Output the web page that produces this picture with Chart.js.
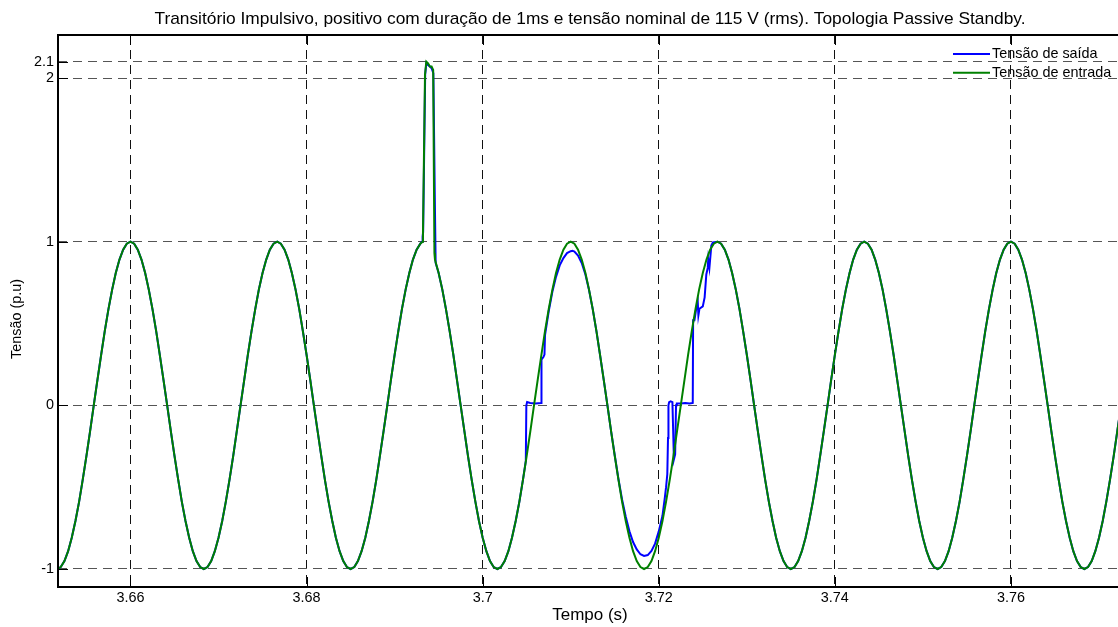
<!DOCTYPE html>
<html>
<head>
<meta charset="utf-8">
<script src="https://cdn.jsdelivr.net/npm/chart.js@4.4.0/dist/chart.umd.min.js"></script>
<style>
html,body{margin:0;padding:0;overflow:hidden;background:#fff;width:1118px;height:627px}
#wrap{position:relative;width:1126px;height:627px}
</style>
</head>
<body>
<div id="wrap"><canvas id="c" width="1126" height="627"></canvas></div>
<script>
// ---------------- data ----------------
const chartTitle = 'Transitório Impulsivo, positivo com duração de 1ms e tensão nominal de 115 V (rms). Topologia Passive Standby.';
const xTitle = 'Tempo (s)';
const yTitle = 'Tensão (p.u)';
const seriesNames = ['Tensão de saída', 'Tensão de entrada'];
const xTicks = [3.66, 3.68, 3.70, 3.72, 3.74, 3.76];
const xTickLabels = ['3.66', '3.68', '3.7', '3.72', '3.74', '3.76'];
const yTicks = [-1, 0, 1, 2, 2.1];
const yTickLabels = ['-1', '0', '1', '2', '2.1'];

// input voltage (green): time (s)
const tIn = [
3.65,3.65042,3.65083,3.65125,3.65167,3.65208,3.6525,3.65292,3.65333,3.65375,3.65417,3.65458,
3.655,3.65542,3.65583,3.65625,3.65667,3.65708,3.6575,3.65792,3.65833,3.65875,3.65917,3.65958,
3.66,3.66042,3.66083,3.66125,3.66167,3.66208,3.6625,3.66292,3.66333,3.66375,3.66417,3.66458,
3.665,3.66542,3.66583,3.66625,3.66667,3.66708,3.6675,3.66792,3.66833,3.66875,3.66917,3.66958,
3.67,3.67042,3.67083,3.67125,3.67167,3.67208,3.6725,3.67292,3.67333,3.67375,3.67417,3.67458,
3.675,3.67542,3.67583,3.67625,3.67667,3.67708,3.6775,3.67792,3.67833,3.67875,3.67917,3.67958,
3.68,3.68042,3.68083,3.68125,3.68167,3.68208,3.6825,3.68292,3.68333,3.68375,3.68417,3.68458,
3.685,3.68542,3.68583,3.68625,3.68667,3.68708,3.6875,3.68792,3.68833,3.68875,3.68917,3.68958,
3.69,3.69042,3.69083,3.69125,3.69167,3.69208,3.6925,3.69292,3.69318,3.69322,3.69345,3.6936,3.6938,3.694,3.6942,3.69438,3.69452,3.69458,
3.695,3.69542,3.69583,3.69625,3.69667,3.69708,3.6975,3.69792,3.69833,3.69875,3.69917,3.69958,
3.7,3.70042,3.70083,3.70125,3.70167,3.70208,3.7025,3.70292,3.70333,3.70375,3.70417,3.70458,
3.705,3.70542,3.70583,3.70625,3.70667,3.70708,3.7075,3.70792,3.70833,3.70875,3.70917,3.70958,
3.71,3.71042,3.71083,3.71125,3.71167,3.71208,3.7125,3.71292,3.71333,3.71375,3.71417,3.71458,
3.715,3.71542,3.71583,3.71625,3.71667,3.71708,3.7175,3.71792,3.71833,3.71875,3.71917,3.71958,
3.72,3.72042,3.72083,3.72125,3.72167,3.72208,3.7225,3.72292,3.72333,3.72375,3.72417,3.72458,
3.725,3.72542,3.72583,3.72625,3.72667,3.72708,3.7275,3.72792,3.72833,3.72875,3.72917,3.72958,
3.73,3.73042,3.73083,3.73125,3.73167,3.73208,3.7325,3.73292,3.73333,3.73375,3.73417,3.73458,
3.735,3.73542,3.73583,3.73625,3.73667,3.73708,3.7375,3.73792,3.73833,3.73875,3.73917,3.73958,
3.74,3.74042,3.74083,3.74125,3.74167,3.74208,3.7425,3.74292,3.74333,3.74375,3.74417,3.74458,
3.745,3.74542,3.74583,3.74625,3.74667,3.74708,3.7475,3.74792,3.74833,3.74875,3.74917,3.74958,
3.75,3.75042,3.75083,3.75125,3.75167,3.75208,3.7525,3.75292,3.75333,3.75375,3.75417,3.75458,
3.755,3.75542,3.75583,3.75625,3.75667,3.75708,3.7575,3.75792,3.75833,3.75875,3.75917,3.75958,
3.76,3.76042,3.76083,3.76125,3.76167,3.76208,3.7625,3.76292,3.76333,3.76375,3.76417,3.76458,
3.765,3.76542,3.76583,3.76625,3.76667,3.76708,3.7675,3.76792,3.76833,3.76875,3.76917,3.76958,
3.77,3.77042,3.77083,3.77125,3.77167,3.77208,3.7725,3.77292
];
// input voltage (green): value (p.u)
const vIn = [
-.809,-.891,-.951,-.988,-1,-.988,-.951,-.891,-.809,-.707,-.588,-.454,
-.309,-.156,0,.156,.309,.454,.588,.707,.809,.891,.951,.988,
1,.988,.951,.891,.809,.707,.588,.454,.309,.156,0,-.156,
-.309,-.454,-.588,-.707,-.809,-.891,-.951,-.988,-1,-.988,-.951,-.891,
-.809,-.707,-.588,-.454,-.309,-.156,0,.156,.309,.454,.588,.707,
.809,.891,.951,.988,1,.988,.951,.891,.809,.707,.588,.454,
.309,.156,0,-.156,-.309,-.454,-.588,-.707,-.809,-.891,-.951,-.988,
-1,-.988,-.951,-.891,-.809,-.707,-.588,-.454,-.309,-.156,0,.156,
.309,.454,.588,.707,.809,.891,.951,.988,1.0,1.05,2.02,2.1,2.09,2.07,2.07,2.05,.93,.891,
.809,.707,.588,.454,.309,.156,0,-.156,-.309,-.454,-.588,-.707,
-.809,-.891,-.951,-.988,-1,-.988,-.951,-.891,-.809,-.707,-.588,-.454,
-.309,-.156,0,.156,.309,.454,.588,.707,.809,.891,.951,.988,
1,.988,.951,.891,.809,.707,.588,.454,.309,.156,0,-.156,
-.309,-.454,-.588,-.707,-.809,-.891,-.951,-.988,-1,-.988,-.951,-.891,
-.809,-.707,-.588,-.454,-.309,-.156,0,.156,.309,.454,.588,.707,
.809,.891,.951,.988,1,.988,.951,.891,.809,.707,.588,.454,
.309,.156,0,-.156,-.309,-.454,-.588,-.707,-.809,-.891,-.951,-.988,
-1,-.988,-.951,-.891,-.809,-.707,-.588,-.454,-.309,-.156,0,.156,
.309,.454,.588,.707,.809,.891,.951,.988,1,.988,.951,.891,
.809,.707,.588,.454,.309,.156,0,-.156,-.309,-.454,-.588,-.707,
-.809,-.891,-.951,-.988,-1,-.988,-.951,-.891,-.809,-.707,-.588,-.454,
-.309,-.156,0,.156,.309,.454,.588,.707,.809,.891,.951,.988,
1,.988,.951,.891,.809,.707,.588,.454,.309,.156,0,-.156,
-.309,-.454,-.588,-.707,-.809,-.891,-.951,-.988,-1,-.988,-.951,-.891,
-.809,-.707,-.588,-.454,-.309,-.156,0,.156
];

// output voltage (blue): time (s)
const tOut = [
3.65,3.65042,3.65083,3.65125,3.65167,3.65208,3.6525,3.65292,3.65333,3.65375,3.65417,3.65458,
3.655,3.65542,3.65583,3.65625,3.65667,3.65708,3.6575,3.65792,3.65833,3.65875,3.65917,3.65958,
3.66,3.66042,3.66083,3.66125,3.66167,3.66208,3.6625,3.66292,3.66333,3.66375,3.66417,3.66458,
3.665,3.66542,3.66583,3.66625,3.66667,3.66708,3.6675,3.66792,3.66833,3.66875,3.66917,3.66958,
3.67,3.67042,3.67083,3.67125,3.67167,3.67208,3.6725,3.67292,3.67333,3.67375,3.67417,3.67458,
3.675,3.67542,3.67583,3.67625,3.67667,3.67708,3.6775,3.67792,3.67833,3.67875,3.67917,3.67958,
3.68,3.68042,3.68083,3.68125,3.68167,3.68208,3.6825,3.68292,3.68333,3.68375,3.68417,3.68458,
3.685,3.68542,3.68583,3.68625,3.68667,3.68708,3.6875,3.68792,3.68833,3.68875,3.68917,3.68958,
3.69,3.69042,3.69083,3.69125,3.69167,3.69208,3.6925,3.69292,3.69312,3.69318,3.69324,3.69347,3.6936,3.6938,3.694,3.6942,3.6944,3.69458,3.69466,
3.695,3.69542,3.69583,3.69625,3.69667,3.69708,3.6975,3.69792,3.69833,3.69875,3.69917,3.69958,
3.7,3.70042,3.70083,3.70125,3.70167,3.70208,3.7025,3.70292,3.70333,3.70375,3.70417,3.70458,3.7049,3.70496,3.70505,3.7054,3.706,3.70664,3.70668,3.7069,3.70702,3.70708,
3.7075,3.70792,3.70833,3.70875,3.70917,3.70958,
3.71,3.7102,3.71042,3.71083,3.71125,3.71167,3.71208,3.7125,3.71292,3.71333,3.71375,3.71417,3.71458,
3.715,3.71542,3.71583,3.71625,3.71667,3.71708,3.7175,3.71792,3.71833,3.71875,3.71917,3.71958,
3.72,3.72042,3.7207,3.72083,3.72097,3.72105,3.7211,3.72118,3.72135,3.72155,3.72172,3.72186,3.72196,3.72205,3.7225,3.723,3.7235,3.72386,3.7239,3.72405,3.72425,3.72443,3.7245,3.72462,
3.725,3.72521,3.7254,3.72556,3.72562,3.72575,3.72597,3.72615,3.72667,3.72708,3.7275,3.72792,3.72833,3.72875,3.72917,3.72958,
3.73,3.73042,3.73083,3.73125,3.73167,3.73208,3.7325,3.73292,3.73333,3.73375,3.73417,3.73458,
3.735,3.73542,3.73583,3.73625,3.73667,3.73708,3.7375,3.73792,3.73833,3.73875,3.73917,3.73958,
3.74,3.74042,3.74083,3.74125,3.74167,3.74208,3.7425,3.74292,3.74333,3.74375,3.74417,3.74458,
3.745,3.74542,3.74583,3.74625,3.74667,3.74708,3.7475,3.74792,3.74833,3.74875,3.74917,3.74958,
3.75,3.75042,3.75083,3.75125,3.75167,3.75208,3.7525,3.75292,3.75333,3.75375,3.75417,3.75458,
3.755,3.75542,3.75583,3.75625,3.75667,3.75708,3.7575,3.75792,3.75833,3.75875,3.75917,3.75958,
3.76,3.76042,3.76083,3.76125,3.76167,3.76208,3.7625,3.76292,3.76333,3.76375,3.76417,3.76458,
3.765,3.76542,3.76583,3.76625,3.76667,3.76708,3.7675,3.76792,3.76833,3.76875,3.76917,3.76958,
3.77,3.77042,3.77083,3.77125,3.77167,3.77208,3.7725,3.77292
];
// output voltage (blue): value (p.u)
const vOut = [
-.809,-.891,-.951,-.988,-1,-.988,-.951,-.891,-.809,-.707,-.588,-.454,
-.309,-.156,0,.156,.309,.454,.588,.707,.809,.891,.951,.988,
1,.988,.951,.891,.809,.707,.588,.454,.309,.156,0,-.156,
-.309,-.454,-.588,-.707,-.809,-.891,-.951,-.988,-1,-.988,-.951,-.891,
-.809,-.707,-.588,-.454,-.309,-.156,0,.156,.309,.454,.588,.707,
.809,.891,.951,.988,1,.988,.951,.891,.809,.707,.588,.454,
.309,.156,0,-.156,-.309,-.454,-.588,-.707,-.809,-.891,-.951,-.988,
-1,-.988,-.951,-.891,-.809,-.707,-.588,-.454,-.309,-.156,0,.156,
.309,.454,.588,.707,.809,.891,.951,.988,1.0,1.03,1.06,2.02,2.09,2.08,2.07,2.06,2.03,1.2,.87,
.809,.707,.588,.454,.309,.156,0,-.156,-.309,-.454,-.588,-.707,
-.809,-.891,-.951,-.988,-1,-.988,-.951,-.891,-.809,-.707,-.588,-.454,-.34,0,.02,.015,.012,.015,.28,.295,.31,.43,
.575,.695,.785,.855,.9,.93,
.942,.945,.94,.915,.87,.8,.705,.588,.454,.309,.156,0,-.156,
-.305,-.45,-.575,-.68,-.77,-.835,-.88,-.91,-.92,-.915,-.89,-.845,
-.77,-.675,-.56,-.5,-.42,-.2,0,.02,.025,.02,-.33,-.3,0,.012,.012,.015,.012,.015,.52,.52,.59,.63,.55,.59,
.605,.66,.8,.84,.89,.84,.976,.995,1,.988,.951,.891,.809,.707,.588,.454,
.309,.156,0,-.156,-.309,-.454,-.588,-.707,-.809,-.891,-.951,-.988,
-1,-.988,-.951,-.891,-.809,-.707,-.588,-.454,-.309,-.156,0,.156,
.309,.454,.588,.707,.809,.891,.951,.988,1,.988,.951,.891,
.809,.707,.588,.454,.309,.156,0,-.156,-.309,-.454,-.588,-.707,
-.809,-.891,-.951,-.988,-1,-.988,-.951,-.891,-.809,-.707,-.588,-.454,
-.309,-.156,0,.156,.309,.454,.588,.707,.809,.891,.951,.988,
1,.988,.951,.891,.809,.707,.588,.454,.309,.156,0,-.156,
-.309,-.454,-.588,-.707,-.809,-.891,-.951,-.988,-1,-.988,-.951,-.891,
-.809,-.707,-.588,-.454,-.309,-.156,0,.156
];

// ---------------- chart ----------------
const FONT = '"Liberation Sans", Arial, Helvetica, sans-serif';
const seriesColors = ['#0000ff', '#008000'];
const toXY = (ts, vs) => ts.map((t, i) => ({x: t, y: vs[i]}));

const decor = {
  id: 'decor',
  afterDraw(chart) {
    const {ctx, chartArea: a, scales: {x, y}} = chart;
    ctx.save();
    // ticks (inward)
    ctx.strokeStyle = '#000';
    ctx.lineWidth = 1;
    ctx.beginPath();
    xTicks.forEach(v => {
      const px = Math.round(x.getPixelForValue(v)) + 0.5;
      ctx.moveTo(px, a.bottom); ctx.lineTo(px, a.bottom - 10);
      ctx.moveTo(px, a.top); ctx.lineTo(px, a.top + 10);
    });
    yTicks.forEach(v => {
      const py = Math.round(y.getPixelForValue(v)) + 0.5;
      ctx.moveTo(a.left, py); ctx.lineTo(a.left + 10, py);
    });
    ctx.stroke();
    // frame
    ctx.lineWidth = 2;
    ctx.beginPath();
    ctx.moveTo(a.right, a.top); ctx.lineTo(a.left, a.top);
    ctx.lineTo(a.left, a.bottom); ctx.lineTo(a.right, a.bottom);
    ctx.lineTo(a.right, a.top);
    ctx.stroke();
    // legend (inside, top right, no box)
    ctx.font = '14.4px ' + FONT;
    ctx.textAlign = 'left';
    ctx.textBaseline = 'middle';
    chart.data.datasets.forEach((ds, i) => {
      const ry = a.top + 19 + i * 18.7;
      ctx.strokeStyle = ds.borderColor;
      ctx.lineWidth = 2;
      ctx.beginPath();
      ctx.moveTo(a.right - 169, ry); ctx.lineTo(a.right - 132, ry);
      ctx.stroke();
      ctx.fillStyle = '#000';
      ctx.fillText(ds.label, a.right - 130, ry);
    });
    // title
    ctx.font = '17.35px ' + FONT;
    ctx.textAlign = 'center';
    ctx.textBaseline = 'alphabetic';
    ctx.fillStyle = '#000';
    ctx.fillText(chartTitle, (a.left + a.right) / 2, 24);
    // y-axis label
    ctx.font = '14.4px ' + FONT;
    ctx.translate(17, 319);
    ctx.rotate(-Math.PI / 2);
    ctx.textAlign = 'center';
    ctx.textBaseline = 'middle';
    ctx.fillText(yTitle, 0, 0);
    ctx.restore();
  }
};

new Chart(document.getElementById('c'), {
  type: 'line',
  data: {
    datasets: [
      {label: seriesNames[0], data: toXY(tOut, vOut), borderColor: seriesColors[0], backgroundColor: seriesColors[0],
       borderWidth: 2, pointRadius: 0, tension: 0, fill: false, order: 1},
      {label: seriesNames[1], data: toXY(tIn, vIn), borderColor: seriesColors[1], backgroundColor: seriesColors[1],
       borderWidth: 2, pointRadius: 0, tension: 0, fill: false, order: 0}
    ]
  },
  options: {
    responsive: false,
    animation: false,
    devicePixelRatio: 1,
    layout: {padding: {top: 35, right: 4, left: 0, bottom: 0}},
    plugins: {legend: {display: false}, title: {display: false}, tooltip: {enabled: false}},
    scales: {
      x: {
        type: 'linear', min: 3.65177, max: 3.77261,
        afterBuildTicks: s => { s.ticks = xTicks.map(v => ({value: v})); },
        afterFit: s => { s.height = 40; },
        ticks: {autoSkip: false, maxRotation: 0, padding: 2.4, color: '#000',
                font: {family: FONT, size: 14.4}, callback: (v, i) => xTickLabels[i]},
        grid: {color: '#111', lineWidth: 1, drawTicks: false},
        border: {display: false, dash: [9, 6]},
        title: {display: true, text: xTitle, color: '#000', font: {family: FONT, size: 17},
                padding: {top: 0, bottom: 1}}
      },
      y: {
        type: 'linear', min: -1.11, max: 2.263,
        afterBuildTicks: s => { s.ticks = yTicks.map(v => ({value: v})); },
        afterFit: s => { s.width = 58; },
        ticks: {autoSkip: false, padding: 4, color: '#000',
                font: {family: FONT, size: 14.4}, callback: (v, i) => yTickLabels[i]},
        grid: {color: '#555', lineWidth: 1, drawTicks: false},
        border: {display: false, dash: [9, 6]}
      }
    }
  },
  plugins: [decor]
});
</script>
</body>
</html>
